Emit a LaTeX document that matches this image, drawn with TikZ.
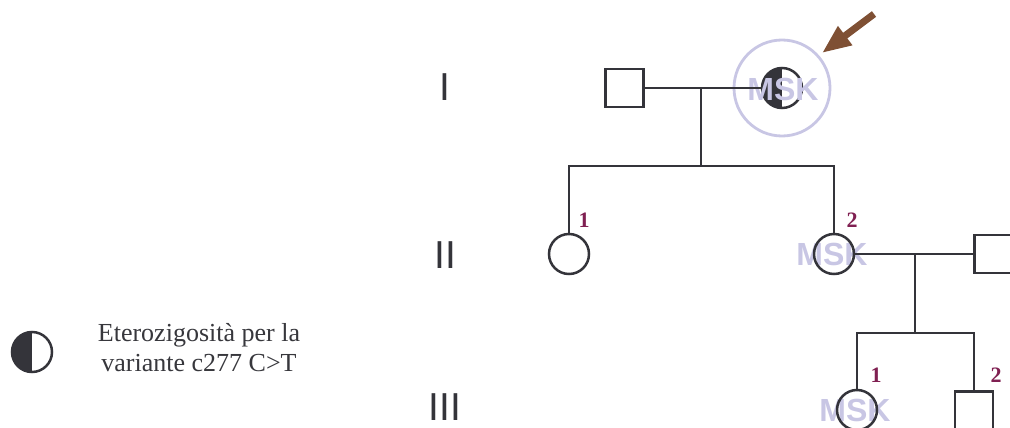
\documentclass[tikz,border=0pt]{standalone}
\usepackage{fontspec}
\setmainfont{Liberation Serif}
\newfontfamily\arialf{Liberation Sans}
\usetikzlibrary{arrows.meta}
\definecolor{linec}{RGB}{52,52,58}
\definecolor{lavc}{RGB}{200,198,228}
\definecolor{brownc}{RGB}{127,80,52}
\definecolor{numc}{RGB}{128,32,82}
\definecolor{textc}{RGB}{55,55,60}

\begin{document}
\begin{tikzpicture}[x=1pt,y=-1pt,
  male/.style={draw=linec, line width=2.5pt, rectangle, minimum size=38pt, inner sep=0pt},
  female/.style={draw=linec, line width=2.5pt, circle, minimum size=40pt, inner sep=0pt},
  hetero/.style={female, path picture={\fill[linec] (path picture bounding box.south) rectangle (path picture bounding box.north west);}},
  msk/.style={font=\arialf\bfseries\fontsize{32}{32}\selectfont, text=lavc, inner sep=0pt},
  halo/.style={draw=lavc, line width=2.8pt, circle, minimum size=96pt, inner sep=0pt},
  gen/.style={font=\arialf\fontsize{39}{39}\selectfont, text=linec, inner sep=0pt},
  num/.style={font=\bfseries\fontsize{22}{22}\selectfont, text=numc, inner sep=0pt},
  rel/.style={draw=linec, line width=2.5pt}]
\useasboundingbox (0,0) rectangle (1010,428);
\node[gen] (gI) at (445,87) {I};
\node[gen] (gII) at (445,255) {II};
\node[gen] (gIII) at (445,407) {III};
\node[male] (I1) at (624.5,88) {};
\node[hetero] (I2) at (782,88) {};
\node[msk] (mI2) at (783,89) {MSK};
\node[halo] (hI2) at (782,88) {};
\draw[brownc, line width=7pt, -{Triangle[length=29pt,width=22pt]}] (874,14) coordinate (atail) -- (822,53) coordinate (atip);
\coordinate (m1) at (701,88);
\coordinate (s1) at (701,166);
\draw[rel] (I1.east) -- (I2.west);
\draw[rel] (m1) -- (s1);
\node[female] (II1) at (569,254) {};
\node[msk] (mII2) at (832,254) {MSK};
\node[female] (II2) at (834,254) {};
\node[male] (II3) at (993.5,254) {};
\draw[rel] (II1.north) |- (s1) -| (II2.north);
\node[num] (nII1) at (584,220) {1};
\node[num] (nII2) at (852,220) {2};
\coordinate (m2) at (915,254);
\coordinate (s2) at (915,333);
\draw[rel] (II2.east) -- (II3.west);
\draw[rel] (m2) -- (s2);
\node[msk] (mIII1) at (855,410) {MSK};
\node[female] (III1) at (857,410) {};
\node[male] (III2) at (974,410.5) {};
\draw[rel] (III1.north) |- (s2) -| (III2.north);
\node[num] (nIII1) at (876,375) {1};
\node[num] (nIII2) at (996,375) {2};
\node[hetero] (leg) at (32,352) {};
\node[text=textc, align=center, font=\fontsize{26}{30}\selectfont] (legtext) at (199,348) {Eterozigosità per la\\variante c277 C>T};
\end{tikzpicture}
\end{document}
